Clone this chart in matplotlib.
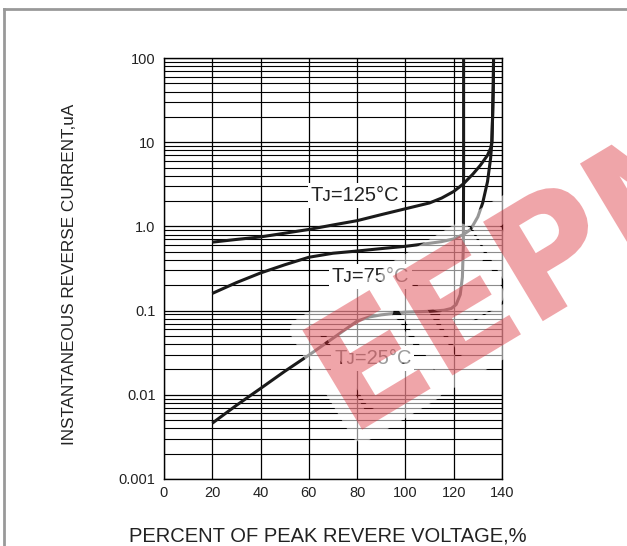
import matplotlib
matplotlib.use("Agg")
import matplotlib.pyplot as plt
from matplotlib.lines import Line2D
from matplotlib.patches import PathPatch
from matplotlib.textpath import TextPath
from matplotlib.font_manager import FontProperties
from matplotlib.transforms import Affine2D
from matplotlib.ticker import LogLocator, FixedLocator, NullFormatter

# ---- data ----
x125 = [20, 30, 40, 50, 60, 70, 80, 90, 100, 110, 115, 120, 124, 128, 131, 134, 135.3, 135.8, 136.1, 136.4, 136.5]
y125 = [0.65, 0.70, 0.75, 0.83, 0.92, 1.04, 1.17, 1.38, 1.62, 1.9, 2.17, 2.6, 3.2, 4.2, 5.3, 7.0, 8.5, 10, 20, 50, 100]

x75 = [20, 30, 40, 50, 60, 70, 80, 90, 100, 110, 115, 120, 124, 127, 130, 132, 134, 135.3, 135.8, 136.1, 136.4, 136.5]
y75 = [0.16, 0.215, 0.28, 0.35, 0.43, 0.48, 0.51, 0.545, 0.58, 0.63, 0.66, 0.71, 0.8, 0.92, 1.3, 1.9, 3.4, 6.5, 10, 20, 50, 100]

x25 = [20, 30, 40, 50, 60, 70, 80, 85, 90, 100, 110, 116, 119, 121, 122.7, 123.6, 124.0, 124.1, 124.1]
y25 = [0.0046, 0.0075, 0.0119, 0.019, 0.0296, 0.047, 0.075, 0.084, 0.089, 0.096, 0.098, 0.101, 0.106, 0.118, 0.155, 0.25, 0.6, 5, 100]

labels = ["T\u1d0a=125°C", "T\u1d0a=75°C", "T\u1d0a=25°C"]
label_x = [79, 85.5, 86.5]
label_y = [2.34, 0.254, 0.0268]

xticks = [0, 20, 40, 60, 80, 100, 120, 140]
yticks = [0.001, 0.01, 0.1, 1, 10, 100]
yticklabels = ["0.001", "0.01", "0.1", "1.0", "10", "100"]

FONT = ["Liberation Sans", "DejaVu Sans"]
plt.rcParams["font.family"] = FONT

fig = plt.figure(figsize=(6.27, 5.46), dpi=100)
ax = fig.add_axes([164 / 627, 1 - 479 / 546, (502 - 164) / 627, (479 - 58) / 546])
ax.set_yscale("log")
ax.set_xlim(0, 140)
ax.set_ylim(0.001, 100)

ax.xaxis.set_major_locator(FixedLocator(xticks))
ax.yaxis.set_major_locator(FixedLocator(yticks))
ax.set_yticklabels(yticklabels)
ax.yaxis.set_minor_locator(LogLocator(base=10, subs=range(2, 10)))
ax.yaxis.set_minor_formatter(NullFormatter())
ax.tick_params(axis="both", which="both", length=0, labelsize=10.5, colors="#222222")
ax.tick_params(axis="y", pad=6)
ax.tick_params(axis="x", pad=5)

ax.grid(True, which="major", axis="both", color="black", linewidth=0.9)
ax.grid(True, which="minor", axis="y", color="black", linewidth=0.8)
ax.set_axisbelow(True)
for s in ax.spines.values():
    s.set_color("black")
    s.set_linewidth(1.0)

for xs, ys in [(x125, y125), (x75, y75), (x25, y25)]:
    ax.plot(xs, ys, color="#1a1a1a", linewidth=2.2, solid_capstyle="butt", zorder=3)

for t, lx, ly in zip(labels, label_x, label_y):
    ax.text(lx, ly, t, ha="center", va="center", fontsize=14.5, color="#222222",
            family=FONT, zorder=4,
            bbox=dict(facecolor="white", edgecolor="none", pad=2))

fig.text(328 / 627, 1 - 536 / 546, "PERCENT OF PEAK REVERE VOLTAGE,%", ha="center", va="center",
         fontsize=14.5, color="#222222")
fig.text(70 / 627, 1 - 274 / 546, "INSTANTANEOUS REVERSE CURRENT,uA", ha="center", va="center",
         rotation=90, fontsize=12.3, color="#222222")

# frame lines of the original page
fig.add_artist(Line2D([4 / 627, 4 / 627], [0, 1 - 9 / 546], color="#999999", linewidth=2))
fig.add_artist(Line2D([4 / 627, 1], [1 - 9 / 546, 1 - 9 / 546], color="#999999", linewidth=2))

# watermark logo (graphic)
logo = TextPath((0, 0), "EEPM", size=159, prop=FontProperties(family="DejaVu Sans", weight="bold"))
logo_tr = (Affine2D().scale(0.97, 1.0).rotate_deg(31).translate(350, 546 - 437)
           + Affine2D().scale(1 / 100) + fig.dpi_scale_trans)
halo = PathPatch(logo, transform=logo_tr, facecolor="none", edgecolor=(1, 1, 1, 0.55),
                 linewidth=18, joinstyle="round", zorder=9)
fill = PathPatch(logo, transform=logo_tr, facecolor=(0.86, 0.16, 0.2, 0.42), edgecolor="none",
                 zorder=10)
fig.add_artist(halo)
fig.add_artist(fill)

fig.savefig("out.png", dpi=100)
